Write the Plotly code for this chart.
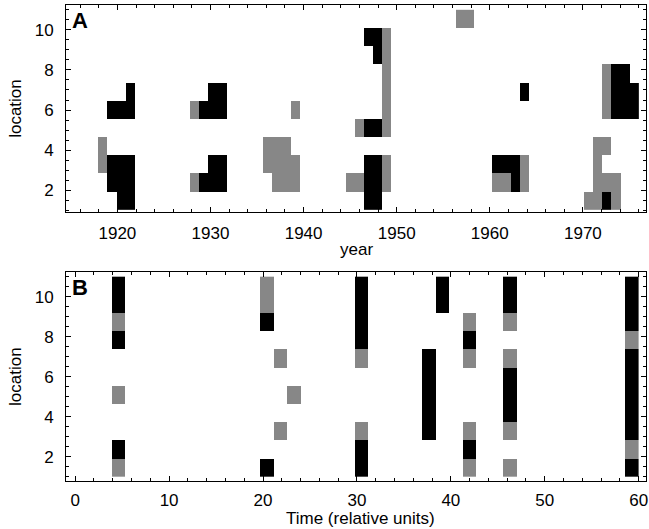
import plotly.graph_objects as go

# ---------------- Panel A data (year columns 1915..1976, locations 1..11) ----------------
A_YEARS = list(range(1915, 1977))          # 62 yearly columns
A_SPAN = (1915, 1976)                      # axis span covered by the columns
LOCATIONS = list(range(1, 12))             # 11 locations
LOC_SPAN = (1, 11)

A_BLACK = {
    1: [1920, 1921, 1947, 1948, 1973],
    2: [1919, 1920, 1921, 1929, 1930, 1931, 1947, 1948, 1963],
    3: [1919, 1920, 1921, 1930, 1931, 1947, 1948, 1961, 1962, 1963],
    4: [],
    5: [1947, 1948],
    6: [1919, 1920, 1921, 1929, 1930, 1931, 1974, 1975, 1976],
    7: [1921, 1930, 1931, 1964, 1974, 1975, 1976],
    8: [1974, 1975],
    9: [1948],
    10: [1947, 1948],
    11: [],
}
A_GRAY = {
    1: [1971, 1972, 1974],
    2: [1928, 1937, 1938, 1939, 1945, 1946, 1949, 1961, 1962, 1964, 1972, 1973, 1974],
    3: [1918, 1936, 1937, 1938, 1939, 1949, 1964, 1972],
    4: [1918, 1936, 1937, 1938, 1972, 1973],
    5: [1946, 1949],
    6: [1928, 1939, 1949, 1973],
    7: [1949, 1973],
    8: [1949, 1973],
    9: [1949],
    10: [1949],
    11: [1957, 1958],
}

# ---------------- Panel B data (41 time bins spanning time 1..60) ----------------
B_BINS = list(range(41))
B_SPAN = (1, 60)
B_BLACK = {
    2: [11, 10, 8, 2],
    13: [9, 1],
    20: [11, 10, 9, 8, 2, 1],
    25: [7, 6, 5, 4, 3],
    26: [11, 10],
    28: [8, 2],
    31: [11, 10, 6, 5, 4],
    40: [11, 10, 9, 7, 6, 5, 4, 3, 1],
}
B_GRAY = {
    2: [9, 5, 1],
    13: [11, 10],
    14: [7, 3],
    15: [5],
    20: [7, 3],
    28: [9, 7, 3, 1],
    31: [9, 7, 3, 1],
    40: [8, 2],
}

GRAY_VAL, BLACK_VAL = 1, 2


def grid_A():
    z = [[None] * len(A_YEARS) for _ in LOCATIONS]
    for loc, yrs in A_GRAY.items():
        for y in yrs:
            z[loc - 1][A_YEARS.index(y)] = GRAY_VAL
    for loc, yrs in A_BLACK.items():
        for y in yrs:
            z[loc - 1][A_YEARS.index(y)] = BLACK_VAL
    return z


def grid_B():
    z = [[None] * len(B_BINS) for _ in LOCATIONS]
    for b, locs in B_GRAY.items():
        for loc in locs:
            z[loc - 1][b] = GRAY_VAL
    for b, locs in B_BLACK.items():
        for loc in locs:
            z[loc - 1][b] = BLACK_VAL
    return z


cs = [[0, "#878787"], [0.5, "#878787"], [0.5, "#000000"], [1, "#000000"]]
dy = (LOC_SPAN[1] - LOC_SPAN[0]) / len(LOCATIONS)
dxA = (A_SPAN[1] - A_SPAN[0]) / len(A_YEARS)
dxB = (B_SPAN[1] - B_SPAN[0]) / len(B_BINS)

fig = go.Figure()
fig.add_trace(go.Heatmap(z=grid_A(), x0=A_SPAN[0] + dxA / 2, dx=dxA,
                         y0=LOC_SPAN[0] + dy / 2, dy=dy,
                         colorscale=cs, zmin=1, zmax=2, showscale=False,
                         hoverongaps=False, xaxis="x", yaxis="y"))
fig.add_trace(go.Heatmap(z=grid_B(), x0=B_SPAN[0] + dxB / 2, dx=dxB,
                         y0=LOC_SPAN[0] + dy / 2, dy=dy,
                         colorscale=cs, zmin=1, zmax=2, showscale=False,
                         hoverongaps=False, xaxis="x2", yaxis="y2"))

FONT = "Liberation Sans, Arial, Helvetica, sans-serif"
tickfont = dict(family=FONT, size=17, color="black")
common = dict(showline=True, linecolor="black", linewidth=1, mirror="allticks",
              ticks="inside", ticklen=5, tickcolor="black", tickwidth=1,
              showgrid=False, zeroline=False, tickfont=tickfont,
              ticklabeloverflow="allow")

fig.update_layout(
    width=649, height=529,
    margin=dict(l=66, r=1, t=5, b=48),
    paper_bgcolor="white", plot_bgcolor="white",
    font=dict(family=FONT, size=17, color="black"),
    xaxis=dict(domain=[0, 1], anchor="y", range=[1914.48, 1976.78], dtick=10,
               minor=dict(dtick=2, ticklen=3, ticks="inside", tickcolor="black"),
               ticklabelstandoff=6, **common),
    yaxis=dict(domain=[0.565, 1], anchor="x", range=[0.91, 11.24], dtick=2,
               minor=dict(dtick=0.5, ticklen=3, ticks="inside", tickcolor="black"),
               title=dict(text="location", standoff=8, font=dict(family=FONT, size=17)),
               ticklabelstandoff=8, **common),
    xaxis2=dict(domain=[0, 1], anchor="y2", range=[-0.98, 60.78], dtick=10,
                minor=dict(dtick=2, ticklen=3, ticks="inside", tickcolor="black"),
                ticklabelstandoff=4, **common),
    yaxis2=dict(domain=[0, 0.4385], anchor="x2", range=[0.8, 11.22], dtick=2,
                minor=dict(dtick=0.5, ticklen=3, ticks="inside", tickcolor="black"),
                title=dict(text="location", standoff=8, font=dict(family=FONT, size=17)),
                ticklabelstandoff=8, **common),
    showlegend=False,
)

# x-axis titles
fig.add_annotation(text="year", xref="paper", yref="paper", x=0.5, y=0.4853,
                   xanchor="center", yanchor="middle", showarrow=False,
                   font=dict(family=FONT, size=17, color="black"))
fig.add_annotation(text="Time (relative units)", xref="paper", yref="paper", x=0.507, y=-0.079,
                   xanchor="center", yanchor="middle", showarrow=False,
                   font=dict(family=FONT, size=17, color="black"))

for ref, label in (("", "A"), ("2", "B")):
    fig.add_annotation(text="<b>%s</b>" % label, xref="x%s domain" % ref, yref="y%s domain" % ref,
                       x=0, y=1, xanchor="left", yanchor="top", xshift=4, yshift=-1,
                       showarrow=False, font=dict(family=FONT, size=22, color="black"))

fig.write_html("out.html")
